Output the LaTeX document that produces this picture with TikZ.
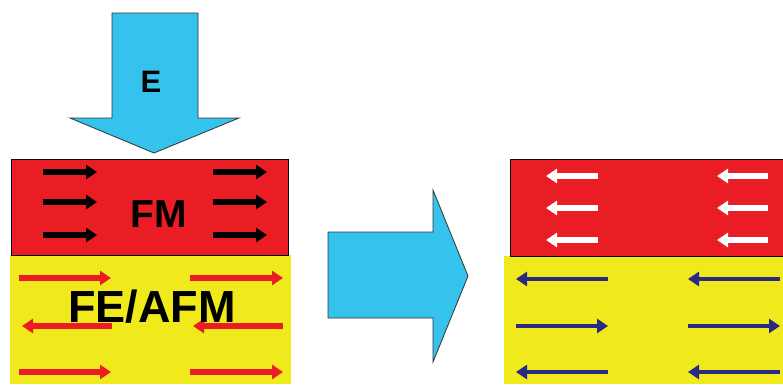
\documentclass[tikz,border=0pt]{standalone}
\usepackage{fontspec}
\setmainfont{Liberation Sans}
\usetikzlibrary{arrows.meta}
\definecolor{fmred}{HTML}{EA1D25}
\definecolor{feyel}{HTML}{F0E91C}
\definecolor{bigcyan}{HTML}{35C3EE}
\definecolor{spinblue}{HTML}{2A2A85}
\tikzset{
  layer/.style={line width=1pt},
  bigarrow/.style={fill=bigcyan, draw=black!80, line width=0.8pt, line join=miter},
  spin/.style={line width=5.4pt, -{Triangle[length=11pt,width=14pt]}, shorten >=-3pt},
  lbl/.style={font=\bfseries, inner sep=0pt, text=black}
}
\begin{document}
\begin{tikzpicture}[x=1pt,y=-1pt]
\useasboundingbox (0,0) rectangle (783,384);
% left stack
\fill[feyel] (10,255) rectangle (291,384);
\draw[layer, fill=fmred] (11,159) rectangle (288,255);
% down arrow
\draw[bigarrow] (112,13) -- (198,13) -- (198,118) -- (239,118) -- (154,153) -- (70,118) -- (112,118) -- cycle;
\node[lbl, font=\bfseries\fontsize{31}{31}\selectfont] (E) at (151,82) {E};
% FM spins (black)
\foreach \yy in {172,202,235}{
  \draw[spin, black] (43,\yy) -- (94,\yy);
  \draw[spin, black] (213,\yy) -- (264,\yy);
}
\node[lbl, font=\bfseries\fontsize{39}{39}\selectfont] (FM) at (159,214) {FM};
% FE/AFM spins (red)
\foreach \yy in {278,372}{
  \draw[spin, fmred] (19,\yy) -- (108,\yy);
  \draw[spin, fmred] (190,\yy) -- (280,\yy);
}
\draw[spin, fmred] (112,326) -- (25,326);
\draw[spin, fmred] (283,326) -- (196,326);
\node[lbl, font=\bfseries\fontsize{45}{45}\selectfont] (FEAFM) at (152,307) {FE/AFM};
% right arrow
\draw[bigarrow] (328,232) -- (433,232) -- (433,190) -- (468,276) -- (433,362) -- (433,318) -- (328,318) -- cycle;
% right stack
\fill[feyel] (504,256) rectangle (783,384);
\draw[layer, fill=fmred] (510,159) -- (784,159) -- (784,256) -- (510,256) -- cycle;
% FM spins (white)
\foreach \yy in {176,208,240}{
  \draw[spin, white] (598,\yy) -- (549,\yy);
  \draw[spin, white] (768,\yy) -- (720,\yy);
}
% FE spins (blue)
\foreach \yy in {279,372}{
  \draw[spin, spinblue, line width=4.6pt] (608,\yy) -- (519,\yy);
  \draw[spin, spinblue, line width=4.6pt] (780,\yy) -- (691,\yy);
}
\draw[spin, spinblue, line width=4.6pt] (516,326) -- (605,326);
\draw[spin, spinblue, line width=4.6pt] (688,326) -- (777,326);
\end{tikzpicture}
\end{document}
